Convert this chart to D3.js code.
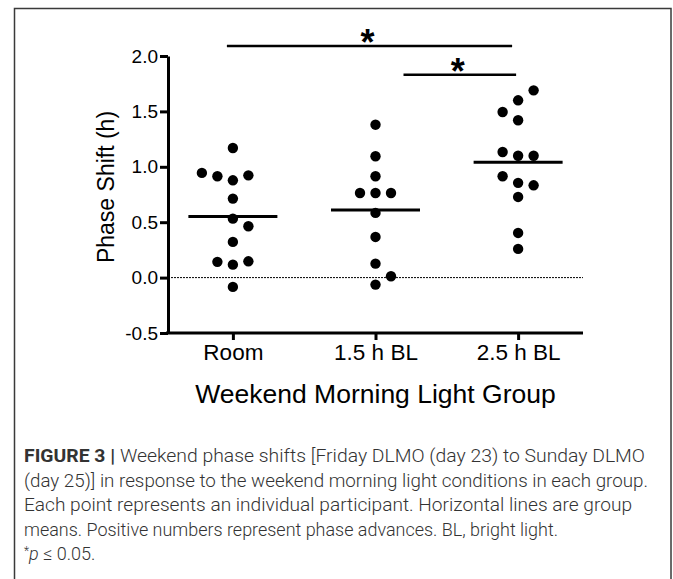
<!DOCTYPE html>
<html>
<head>
<meta charset="utf-8">
<script src="https://cdn.jsdelivr.net/npm/d3@7"></script>
<style>
  body { margin: 0; background: #fff; }
  svg text { font-family: "Liberation Sans", Arial, sans-serif; fill: #000; }
  .caption text { font-family: "Liberation Sans Narrow", "Roboto", "Liberation Sans", sans-serif; fill: #333; font-weight: 300; }
</style>
</head>
<body>
<svg id="chart" width="673" height="579"></svg>
<script>
// values (h); order is the order points get laid out
var groups = ["Room", "1.5 h BL", "2.5 h BL"];
var roomShift = [-0.084, 0.117, 0.147, 0.142, 0.322, 0.532, 0.463, 0.713, 0.878, 0.915, 0.923, 0.945, 1.17];
var bl15Shift = [-0.063, 0.012, 0.126, 0.367, 0.584, 0.764, 0.764, 0.764, 0.915, 1.095, 1.38];
var bl25Shift = [0.259, 0.403, 0.728, 0.833, 0.855, 0.915, 1.10, 1.10, 1.134, 1.42, 1.60, 1.69, 1.495];
var yTicks = [-0.5, 0, 0.5, 1.0, 1.5, 2.0];
var sigBars = [
    {from: "Room", to: "2.5 h BL", y: 2.09, label: "*"},
    {from: "1.5 h BL", to: "2.5 h BL", y: 1.83, label: "*"}
];
var captionLines = [
    ["FIGURE 3 | ", "Weekend phase shifts [Friday DLMO (day 23) to Sunday DLMO"],
    ["", "(day 25)] in response to the weekend morning light conditions in each group."],
    ["", "Each point represents an individual participant. Horizontal lines are group"],
    ["", "means. Positive numbers represent phase advances. BL, bright light."]
];

var svg = d3.select("#chart");

// figure frame
svg.append("rect")
    .attr("x", 14.5).attr("y", 8.5)
    .attr("width", 656.5).attr("height", 620)
    .attr("fill", "none")
    .attr("stroke", "#3a3a3a")
    .attr("stroke-width", 1.5);

var x = d3.scalePoint()
    .domain(groups)
    .range([168, 583])
    .padding(0.455);

var y = d3.scaleLinear()
    .domain([-0.5, 2.0])
    .range([333, 56]);

// dotted zero line
svg.append("line")
    .attr("x1", 168).attr("x2", 583)
    .attr("y1", y(0)).attr("y2", y(0))
    .attr("stroke", "#000")
    .attr("stroke-width", 1)
    .attr("stroke-dasharray", "2,1");

// y axis
var yAxis = svg.append("g")
    .attr("transform", "translate(168,0)")
    .call(d3.axisLeft(y)
        .tickValues(yTicks)
        .tickSize(8)
        .tickSizeOuter(0)
        .tickPadding(2)
        .tickFormat(function (d) { return d.toFixed(1); }));
yAxis.selectAll("path, line").attr("stroke-width", 3).attr("stroke", "#000");
yAxis.selectAll("text").attr("font-size", 19).attr("font-family", null);

// x axis
var xAxis = svg.append("g")
    .attr("transform", "translate(0,333)")
    .call(d3.axisBottom(x).tickSize(7).tickSizeOuter(0).tickPadding(4));
xAxis.select(".domain").attr("d", "M166,0H583");
xAxis.selectAll("path, line").attr("stroke-width", 3).attr("stroke", "#000");
xAxis.selectAll("text").attr("font-size", 22.5).attr("font-family", null);

// axis titles
svg.append("text")
    .attr("transform", "translate(114,187) rotate(-90)")
    .attr("text-anchor", "middle")
    .attr("font-size", 23)
    .text("Phase Shift (h)");

svg.append("text")
    .attr("x", x("1.5 h BL"))
    .attr("y", 403)
    .attr("text-anchor", "middle")
    .attr("font-size", 26.5)
    .text("Weekend Morning Light Group");

// simple column swarm: take the nearest free column, balance left/right
function swarm(values) {
    var placed = [], left = 0, right = 0;
    values.forEach(function (v) {
        var py = y(v);
        var free = function (s) {
            return !placed.some(function (p) { return p.slot === s && Math.abs(p.py - py) < 13; });
        };
        var slot = null;
        for (var k = 0; slot === null; k++) {
            if (k === 0) { if (free(0)) slot = 0; continue; }
            var r = free(k), l = free(-k);
            if (r && l) slot = right <= left ? k : -k;
            else if (r) slot = k;
            else if (l) slot = -k;
        }
        if (slot > 0) right++;
        else if (slot < 0) left++;
        placed.push({v: v, slot: slot, py: py});
    });
    return placed;
}

var series = [roomShift, bl15Shift, bl25Shift];
var step = 15.5;

series.forEach(function (vals, i) {
    var cx = x(groups[i]);
    var g = svg.append("g");
    g.selectAll("circle")
        .data(swarm(vals))
        .enter().append("circle")
        .attr("cx", function (d) { return cx + d.slot * step; })
        .attr("cy", function (d) { return d.py; })
        .attr("r", 5.2)
        .attr("fill", "#000");
    var m = d3.mean(vals);
    g.append("line")
        .attr("x1", cx - 44.5).attr("x2", cx + 44.5)
        .attr("y1", y(m)).attr("y2", y(m))
        .attr("stroke", "#000")
        .attr("stroke-width", 3);
});

// significance bars
var barPad = [[-6, -6], [28, -2]];
sigBars.forEach(function (b, i) {
    var x1 = x(b.from) + barPad[i][0], x2 = x(b.to) + barPad[i][1];
    svg.append("line")
        .attr("x1", x1).attr("x2", x2)
        .attr("y1", y(b.y)).attr("y2", y(b.y))
        .attr("stroke", "#000")
        .attr("stroke-width", 2.5);
    svg.append("text")
        .attr("x", (x1 + x2) / 2 - 2)
        .attr("y", y(b.y) + 9)
        .attr("text-anchor", "middle")
        .attr("font-size", 36)
        .attr("font-weight", "bold")
        .text(b.label);
});

// caption
var cap = svg.append("g").attr("class", "caption");
var lineWidths = [621, 624, 608, 534];
captionLines.forEach(function (ln, i) {
    var t = cap.append("text")
        .attr("x", 24)
        .attr("y", 462 + i * 24.5)
        .attr("font-size", 18)
        .attr("textLength", lineWidths[i])
        .attr("lengthAdjust", "spacingAndGlyphs");
    if (ln[0]) t.append("tspan").attr("font-weight", "bold").style("font-weight", "bold").text(ln[0]);
    t.append("tspan").text(ln[1]);
});
var last = cap.append("text")
    .attr("x", 24)
    .attr("y", 462 + 4 * 24.5)
    .attr("font-size", 18);
last.append("tspan").attr("font-size", 12).attr("dy", -5).text("*");
last.append("tspan").attr("font-style", "italic").attr("dy", 5).text("p");
last.append("tspan").text(" \u2264 0.05.");
</script>
</body>
</html>
